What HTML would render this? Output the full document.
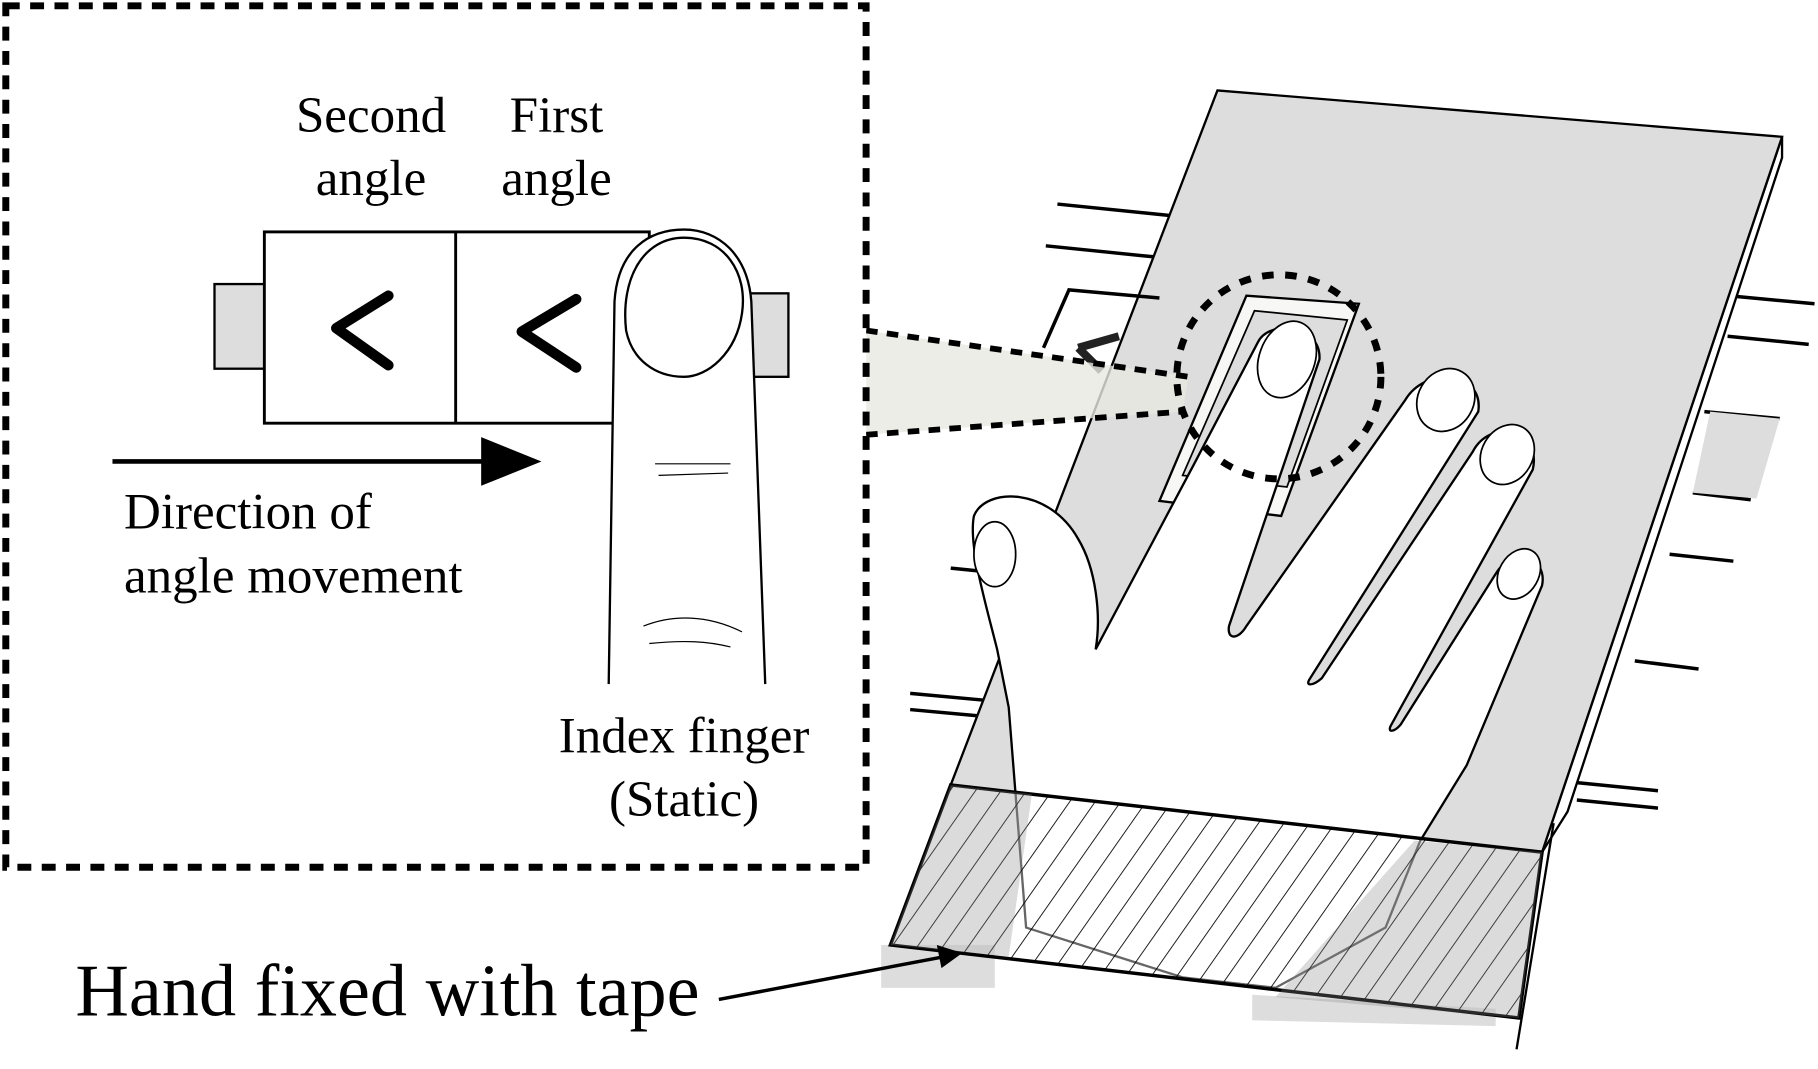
<!DOCTYPE html>
<html><head><meta charset="utf-8"><style>
html,body{margin:0;padding:0;background:#fff;}
svg{display:block}
text{font-family:"Liberation Serif",serif;fill:#000}
</style></head><body>
<svg width="1818" height="1069" viewBox="0 0 1568 922" preserveAspectRatio="none" xmlns="http://www.w3.org/2000/svg">
<defs>
<pattern id="hatch" patternUnits="userSpaceOnUse" width="18" height="18" patternTransform="rotate(35)">
<line x1="0" y1="0" x2="0" y2="18" stroke="#000" stroke-width="1.5"/>
</pattern>
</defs>
<g stroke="#000" stroke-width="3" fill="none">
<line x1="912" y1="176" x2="1010" y2="186"/>
<line x1="902" y1="212" x2="1000" y2="222"/>
<line x1="1490" y1="255" x2="1565" y2="262"/>
<line x1="1490" y1="290" x2="1560" y2="297"/>
<line x1="1470" y1="355" x2="1535" y2="361"/>
<line x1="1460" y1="425" x2="1510" y2="431"/>
<line x1="1440" y1="478" x2="1495" y2="484"/>
<line x1="1410" y1="570" x2="1465" y2="577"/>
<line x1="1360" y1="675" x2="1430" y2="682"/>
<line x1="1360" y1="690" x2="1430" y2="697"/>
<line x1="820" y1="490" x2="850" y2="493"/>
<line x1="785" y1="598" x2="850" y2="604"/>
<line x1="785" y1="612" x2="850" y2="618"/>
</g>
<polygon points="1475,355 1535,361 1515,430 1460,425" fill="#ddd"/>
<polygon points="1537,118 1537,136 1352,700 1330,735" fill="#fff" stroke="#000" stroke-width="2"/>
<line x1="1340" y1="710" x2="1308" y2="905" stroke="#000" stroke-width="2"/>
<polygon points="1050,78 1537,118 1330,735 820,677" fill="#ddd" stroke="#000" stroke-width="2"/>
<polyline points="900,300 922,250 1000,257" fill="none" stroke="#000" stroke-width="3"/>
<path d="M930,300 L965,290 M930,300 L950,320" stroke="#222" stroke-width="7" fill="none"/>
<path d="M1075,255 L1172,262 L1105,445 L1000,432 Z" fill="#f7f8f6" stroke="#000" stroke-width="2"/>
<path d="M1082,268 L1162,276 L1110,420 L1020,410 Z" fill="#ddd" stroke="#000" stroke-width="1.5"/>
<rect x="760" y="815" width="98" height="37" fill="#ddd"/>
<polygon points="1080,858 1290,870 1290,885 1080,880" fill="#ddd"/>
<path d="M885,800 L870,610 L860,560 C850,520 835,470 840,445 C850,420 905,420 930,465 C945,490 950,530 945,560 L1030,400 L1085,295 C1095,275 1140,280 1138,310 L1060,540 C1058,552 1068,552 1075,540 L1212,345 C1230,315 1280,320 1275,355 L1130,585 C1125,592 1132,592 1140,585 L1270,390 C1285,360 1330,370 1322,405 L1200,625 C1196,632 1202,632 1208,625 L1290,495 C1305,470 1335,480 1330,505 L1265,660 L1225,725 L1195,800 L1100,852 L1020,843 Z" fill="#fff" stroke="#000" stroke-width="2"/>
<ellipse cx="858" cy="478" rx="18" ry="28" fill="#fff" stroke="#000" stroke-width="1.5"/>
<ellipse cx="1110" cy="310" rx="24" ry="34" transform="rotate(20 1110 310)" fill="#fff" stroke="#000" stroke-width="1.5"/>
<ellipse cx="1247" cy="345" rx="24" ry="28" transform="rotate(30 1247 345)" fill="#fff" stroke="#000" stroke-width="1.5"/>
<ellipse cx="1300" cy="392" rx="22" ry="27" transform="rotate(30 1300 392)" fill="#fff" stroke="#000" stroke-width="1.5"/>
<ellipse cx="1310" cy="495" rx="17" ry="23" transform="rotate(30 1310 495)" fill="#fff" stroke="#000" stroke-width="1.5"/>
<polygon points="820,677 1330,735 1310,878 768,815" fill="#fff" fill-opacity="0.4" stroke="none"/>
<polygon points="820,677 1330,735 1310,878 768,815" fill="url(#hatch)" stroke="#000" stroke-width="3"/>
<polygon points="820,677 890,685 870,825 768,815" fill="#888" fill-opacity="0.3"/>
<polygon points="1220,725 1330,735 1310,878 1100,860" fill="#888" fill-opacity="0.3"/>
<polygon points="747,285 1025,325 1020,355 747,375" fill="#e8e8e2" fill-opacity="0.8"/>
<line x1="747" y1="285" x2="1025" y2="325" stroke="#000" stroke-width="5" stroke-dasharray="10,8"/>
<line x1="747" y1="375" x2="1020" y2="355" stroke="#000" stroke-width="5" stroke-dasharray="10,8"/>
<circle cx="1103" cy="325" r="88" fill="none" stroke="#000" stroke-width="6" stroke-dasharray="10,10"/>
<rect x="5" y="5" width="742" height="743" fill="#fff" stroke="#000" stroke-width="6" stroke-dasharray="12,9"/>
<rect x="185" y="245" width="43" height="73" fill="#ddd" stroke="#000" stroke-width="2"/>
<rect x="645" y="253" width="35" height="72" fill="#ddd" stroke="#000" stroke-width="2"/>
<rect x="228" y="200" width="332" height="165" fill="#fff" stroke="#000" stroke-width="2.5"/>
<line x1="393" y1="200" x2="393" y2="365" stroke="#000" stroke-width="2.5"/>
<path d="M335,255 L290,283 L335,315" fill="none" stroke="#000" stroke-width="9" stroke-linecap="round" stroke-linejoin="round"/>
<path d="M497,258 L450,286 L497,317" fill="none" stroke="#000" stroke-width="9" stroke-linecap="round" stroke-linejoin="round"/>
<path d="M525,590 L530,260 C533,215 560,198 590,198 C620,198 645,220 648,260 L660,590" fill="#fff" stroke="#000" stroke-width="2"/>
<path d="M540,285 C535,240 555,205 590,205 C625,205 645,235 640,270 C635,305 610,325 590,325 C565,325 545,310 540,285 Z" fill="#fff" stroke="#000" stroke-width="2"/>
<path d="M565,400 L630,400 M568,410 L628,408 M555,540 C580,530 610,530 640,545 M560,555 C590,552 610,553 630,558" stroke="#000" stroke-width="1" fill="none"/>
<line x1="97" y1="398" x2="425" y2="398" stroke="#000" stroke-width="4"/>
<polygon points="415,377 467,398 415,419" fill="#000"/>
<g font-size="44">
<text x="320" y="114" text-anchor="middle">Second</text>
<text x="320" y="168" text-anchor="middle">angle</text>
<text x="480" y="114" text-anchor="middle">First</text>
<text x="480" y="168" text-anchor="middle">angle</text>
<text x="107" y="456">Direction of</text>
<text x="107" y="511">angle movement</text>
<text x="590" y="649" text-anchor="middle">Index finger</text>
<text x="590" y="704" text-anchor="middle">(Static)</text>
</g>
<text x="65" y="876" font-size="64">Hand fixed with tape</text>
<line x1="620" y1="862" x2="815" y2="825" stroke="#000" stroke-width="3"/>
<polygon points="830,822 808,815 812,835" fill="#000"/>
</svg>
</body></html>
